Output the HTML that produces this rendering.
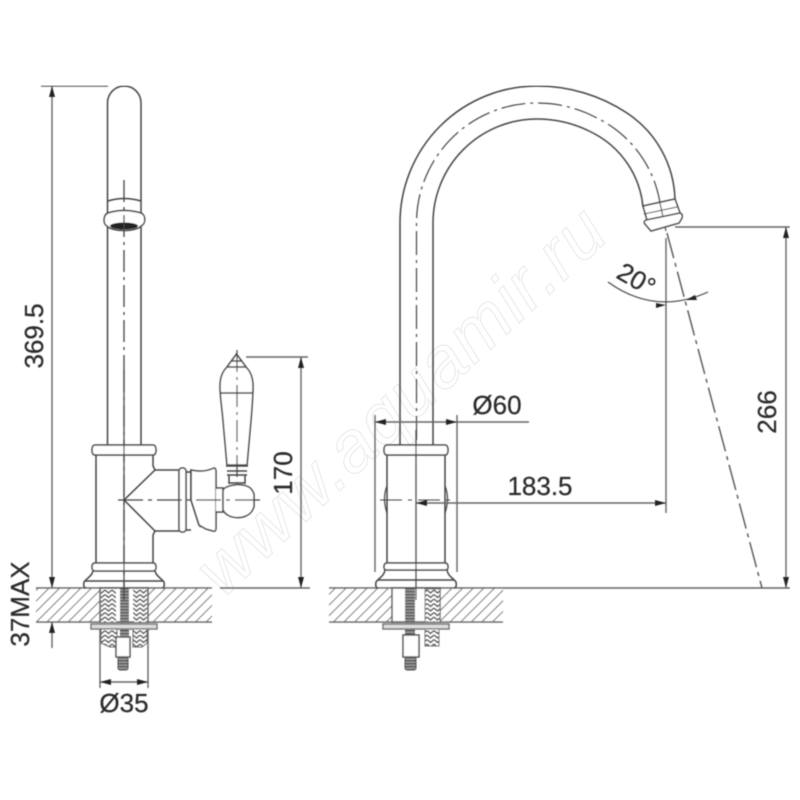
<!DOCTYPE html>
<html>
<head>
<meta charset="utf-8">
<style>
html,body{margin:0;padding:0;background:#fff;width:800px;height:800px;overflow:hidden}
svg{display:block}
text{font-family:"Liberation Sans",sans-serif;font-size:26px;fill:#2c2c2c;stroke:#2c2c2c;stroke-width:0.25;text-anchor:middle}
</style>
</head>
<body>
<svg width="800" height="800" viewBox="0 0 800 800" xmlns="http://www.w3.org/2000/svg">
<defs>
<pattern id="h" width="7.500" height="7.500" patternUnits="userSpaceOnUse" patternTransform="rotate(45)">
<rect width="7.500" height="7.500" fill="#fff"/><line x1="0" y1="0" x2="0" y2="7.500" stroke="#666" stroke-width="2"/>
</pattern>
<pattern id="c" width="7" height="4.500" patternUnits="userSpaceOnUse">
<rect width="7" height="4.500" fill="#fff"/><path d="M0 0.500L3.500 3.500L7 0.500" fill="none" stroke="#555" stroke-width="1.500"/>
</pattern>
<pattern id="s" width="4" height="3" patternUnits="userSpaceOnUse">
<rect width="4" height="3" fill="#999"/><rect width="4" height="1.400" fill="#555"/>
</pattern>
<filter id="b" x="0" y="0" width="100%" height="100%"><feGaussianBlur stdDeviation="0.45"/></filter>
</defs>
<g transform="rotate(-43 400 400)">
<text x="400" y="425" style="font-size:72px;fill:#fff;stroke:#f0f0f0;stroke-width:1.500;font-style:italic" textLength="530" lengthAdjust="spacing">www.aquamir.ru</text>
</g>
<g filter="url(#b)">
<g fill="none" stroke="#444" stroke-width="1.500">
<!-- counters -->
<rect x="36" y="588" width="176" height="34" fill="url(#h)" stroke="none"/>
<rect x="329" y="588" width="174" height="34" fill="url(#h)" stroke="none"/>
<path d="M36 588H212M36 622H212M329 588H790M329 622H503" stroke="#666"/>

<!-- left hole -->
<rect x="100" y="588" width="48" height="34" fill="#fff" stroke="#555"/>
<rect x="101" y="589" width="15" height="33" fill="url(#c)" stroke="none"/>
<rect x="133" y="589" width="14" height="33" fill="url(#c)" stroke="none"/>
<rect x="120" y="588" width="9" height="49" fill="url(#s)" stroke="none"/>
<rect x="91" y="624" width="66" height="5" fill="#ddd" stroke="#777"/>
<path d="M101 629V643L110 647H117V629Z M133 629V647H142L147 643V629Z" fill="url(#c)" stroke="#666" stroke-width="1"/>
<rect x="116" y="637" width="14" height="20" fill="#fff" stroke="#555"/>
<rect x="118" y="657" width="10" height="13" rx="2" fill="url(#s)" stroke="#555" stroke-width="1"/>

<!-- right hole -->
<rect x="392" y="588" width="48" height="34" fill="#fff" stroke="#555"/>
<rect x="425" y="589" width="15" height="33" fill="url(#c)" stroke="#777" stroke-width="1"/>
<rect x="405" y="588" width="10" height="48" fill="url(#s)" stroke="none"/>
<rect x="383" y="624" width="66" height="5" fill="#ddd" stroke="#777"/>
<rect x="425" y="629" width="14" height="17" fill="url(#c)" stroke="#777" stroke-width="1"/>
<rect x="403" y="635" width="16" height="22" fill="#fff" stroke="#555"/>
<rect x="405" y="657" width="11" height="13" rx="2" fill="url(#s)" stroke="#555" stroke-width="1"/>

<!-- left faucet spout -->
<path d="M107.500 445V103A16.700 17 0 0 1 141 103V445"/>
<path d="M108 201Q124 196 141 201"/>
<path d="M108 213Q124 208 141 213C146 215 146 224 141 226C136 232 112 232 107 226C103 224 103 215 108 213Z" fill="#fff"/>
<ellipse cx="124" cy="226" rx="14" ry="3.500" fill="#222" stroke="none"/>
<path d="M124 180V370M124 370V600" stroke-dasharray="22 5 3 5" stroke-width="1.300"/>

<!-- left body -->
<path d="M95 445H153Q156 445 156 450Q156 455 153 455H95Q92 455 92 450Q92 445 95 445Z" fill="#fff"/>
<path d="M96 455V563M153 455V466L155 470L124 500L155 531L153 535V563"/>
<path d="M155 470H179M155 531H179"/>
<rect x="179" y="468" width="7" height="64" rx="3" fill="#fff"/>
<path d="M186 472H191M186 530H191"/>
<path d="M191 470Q204 473 214 468Q216 468 216 472V528Q216 532 213 531L206 529L199 525L191 500Z" fill="#fff"/>
<path d="M191 470V500L199 525L201 527"/>
<path d="M216 488H223V512H216" fill="#fff"/>
<path d="M223 490C227 484 247 482 252 490L254 494V507L252 511C246 520 228 520 223 510Z" fill="#fff"/>
<path d="M236.500 354L227 367C222 372 220 378 220 386C220 396 222 408 223 420L227 465H247L251 420C252 408 253 396 253 386C253 378 251 372 246 367Z" fill="#fff"/>
<path d="M221 393H252M227 367H246M231 361H242"/>
<path d="M226 466H248M227 471H247M227 475H247M229 483H245"/>
<path d="M229 475V484M245 475V484"/>
<path d="M237 350V483" stroke-dasharray="22 5 3 5" stroke-width="1.200"/>
<path d="M118 500H260" stroke-dasharray="25 5 4 5" stroke-width="1.200"/>
<path d="M95 563H153Q156 563 156 567Q156 571 153 571H95Q92 571 92 567Q92 563 95 563Z" fill="#fff"/>
<path d="M93 571C92 576 87 578 84 582Q83 588 86 588M155 571C156 576 161 578 164 582Q165 588 162 588M85 581H163"/>
<path d="M124 370V590" stroke-width="1.200"/>

<!-- right faucet spout -->
<path d="M400 445V223A137 137 0 0 1 537 86A163 163 0 0 1 627 113A107 107 0 0 1 675 200"/>
<path d="M433 445V223A104 104 0 0 1 537 119A119 119 0 0 1 593 133A93 93 0 0 1 643 207"/>
<path d="M416.500 440V223A120.500 120 0 0 1 537 103A127 127 0 0 1 597 118A115 115 0 0 1 660 203" stroke-dasharray="24 5 3 5" stroke-width="1.200"/>
<path d="M643 206L675 199L680 213L647 220Z" fill="#fff"/>
<path d="M660 203L666 231" stroke-width="1.100"/>
<path d="M646 220L680 213Q683 214 682 218L679 223L651 231L645 224Q643 222 646 220Z" fill="#fff"/>
<path d="M644 214L677 207" stroke-width="1.100"/>

<!-- right body -->
<path d="M387 445H445Q448 445 448 450Q448 455 445 455H387Q384 455 384 450Q384 445 387 445Z" fill="#fff"/>
<path d="M387 455V563M445 455V563"/>
<path d="M387 486Q382 498 387 513M445 486Q450 498 445 513" stroke-width="1.200"/>
<path d="M387 563H445Q448 563 448 567Q448 570 445 570H387Q384 570 384 567Q384 563 387 563Z" fill="#fff"/>
<path d="M385 570C384 576 379 578 376 582Q375 588 378 588M447 570C448 576 453 578 456 582Q457 588 454 588M378 580H454"/>
<path d="M416 430V600" stroke-width="1.200"/>
<path d="M380 500H452" stroke-dasharray="22 6 4 6" stroke-width="1.100"/>
</g>

<!-- dimensions -->
<g fill="none" stroke="#666" stroke-width="1.400">
<path d="M41 86H108M52 86V588M52 622V648"/>
<path d="M246 357H308M301 357V588M220 588H310"/>
<path d="M100 629V688M148 629V688M100 682H148"/>
<path d="M375 415V572M457 415V572M375 422H529"/>
<path d="M416 503H666M666 238V513"/>
<path d="M675 227H790M786 227V588"/>
<path d="M667 233L762 588" stroke="#555" stroke-dasharray="26 5 4 5"/>
<path d="M608 282Q655 316 708 292" stroke="#444" stroke-width="1.100"/>
</g>
<g fill="#222">
<path d="M52 86L49 97H55Z"/><path d="M52 588L49 577H55Z"/><path d="M52 622L49 633H55Z"/>
<path d="M301 357L298 368H304Z"/><path d="M301 588L298 577H304Z"/>
<path d="M100 682L111 679V685Z"/><path d="M148 682L137 679V685Z"/>
<path d="M375 422L386 419V425Z"/><path d="M457 422L446 419V425Z"/>
<path d="M416 503L427 500V506Z"/><path d="M666 503L655 500V506Z"/>
<path d="M786 227L783 238H789Z"/><path d="M786 588L783 577H789Z"/>
<path d="M666 305L656 303V308Z"/><path d="M686 300L695 295L697 300Z"/>
</g>
<text transform="translate(43 336) rotate(-90)" x="0" y="0">369.5</text>
<text transform="translate(292 473) rotate(-90)" x="0" y="0">170</text>
<text transform="translate(29 604) rotate(-90)" x="0" y="0">37MAX</text>
<text transform="translate(776 412) rotate(-90)" x="0" y="0">266</text>
<text x="124" y="712">Ø35</text>
<text x="497" y="414">Ø60</text>
<text x="540" y="495">183.5</text>
<text transform="translate(632 287) rotate(30)" x="0" y="0">20°</text>
</g>
</svg>
</body>
</html>
